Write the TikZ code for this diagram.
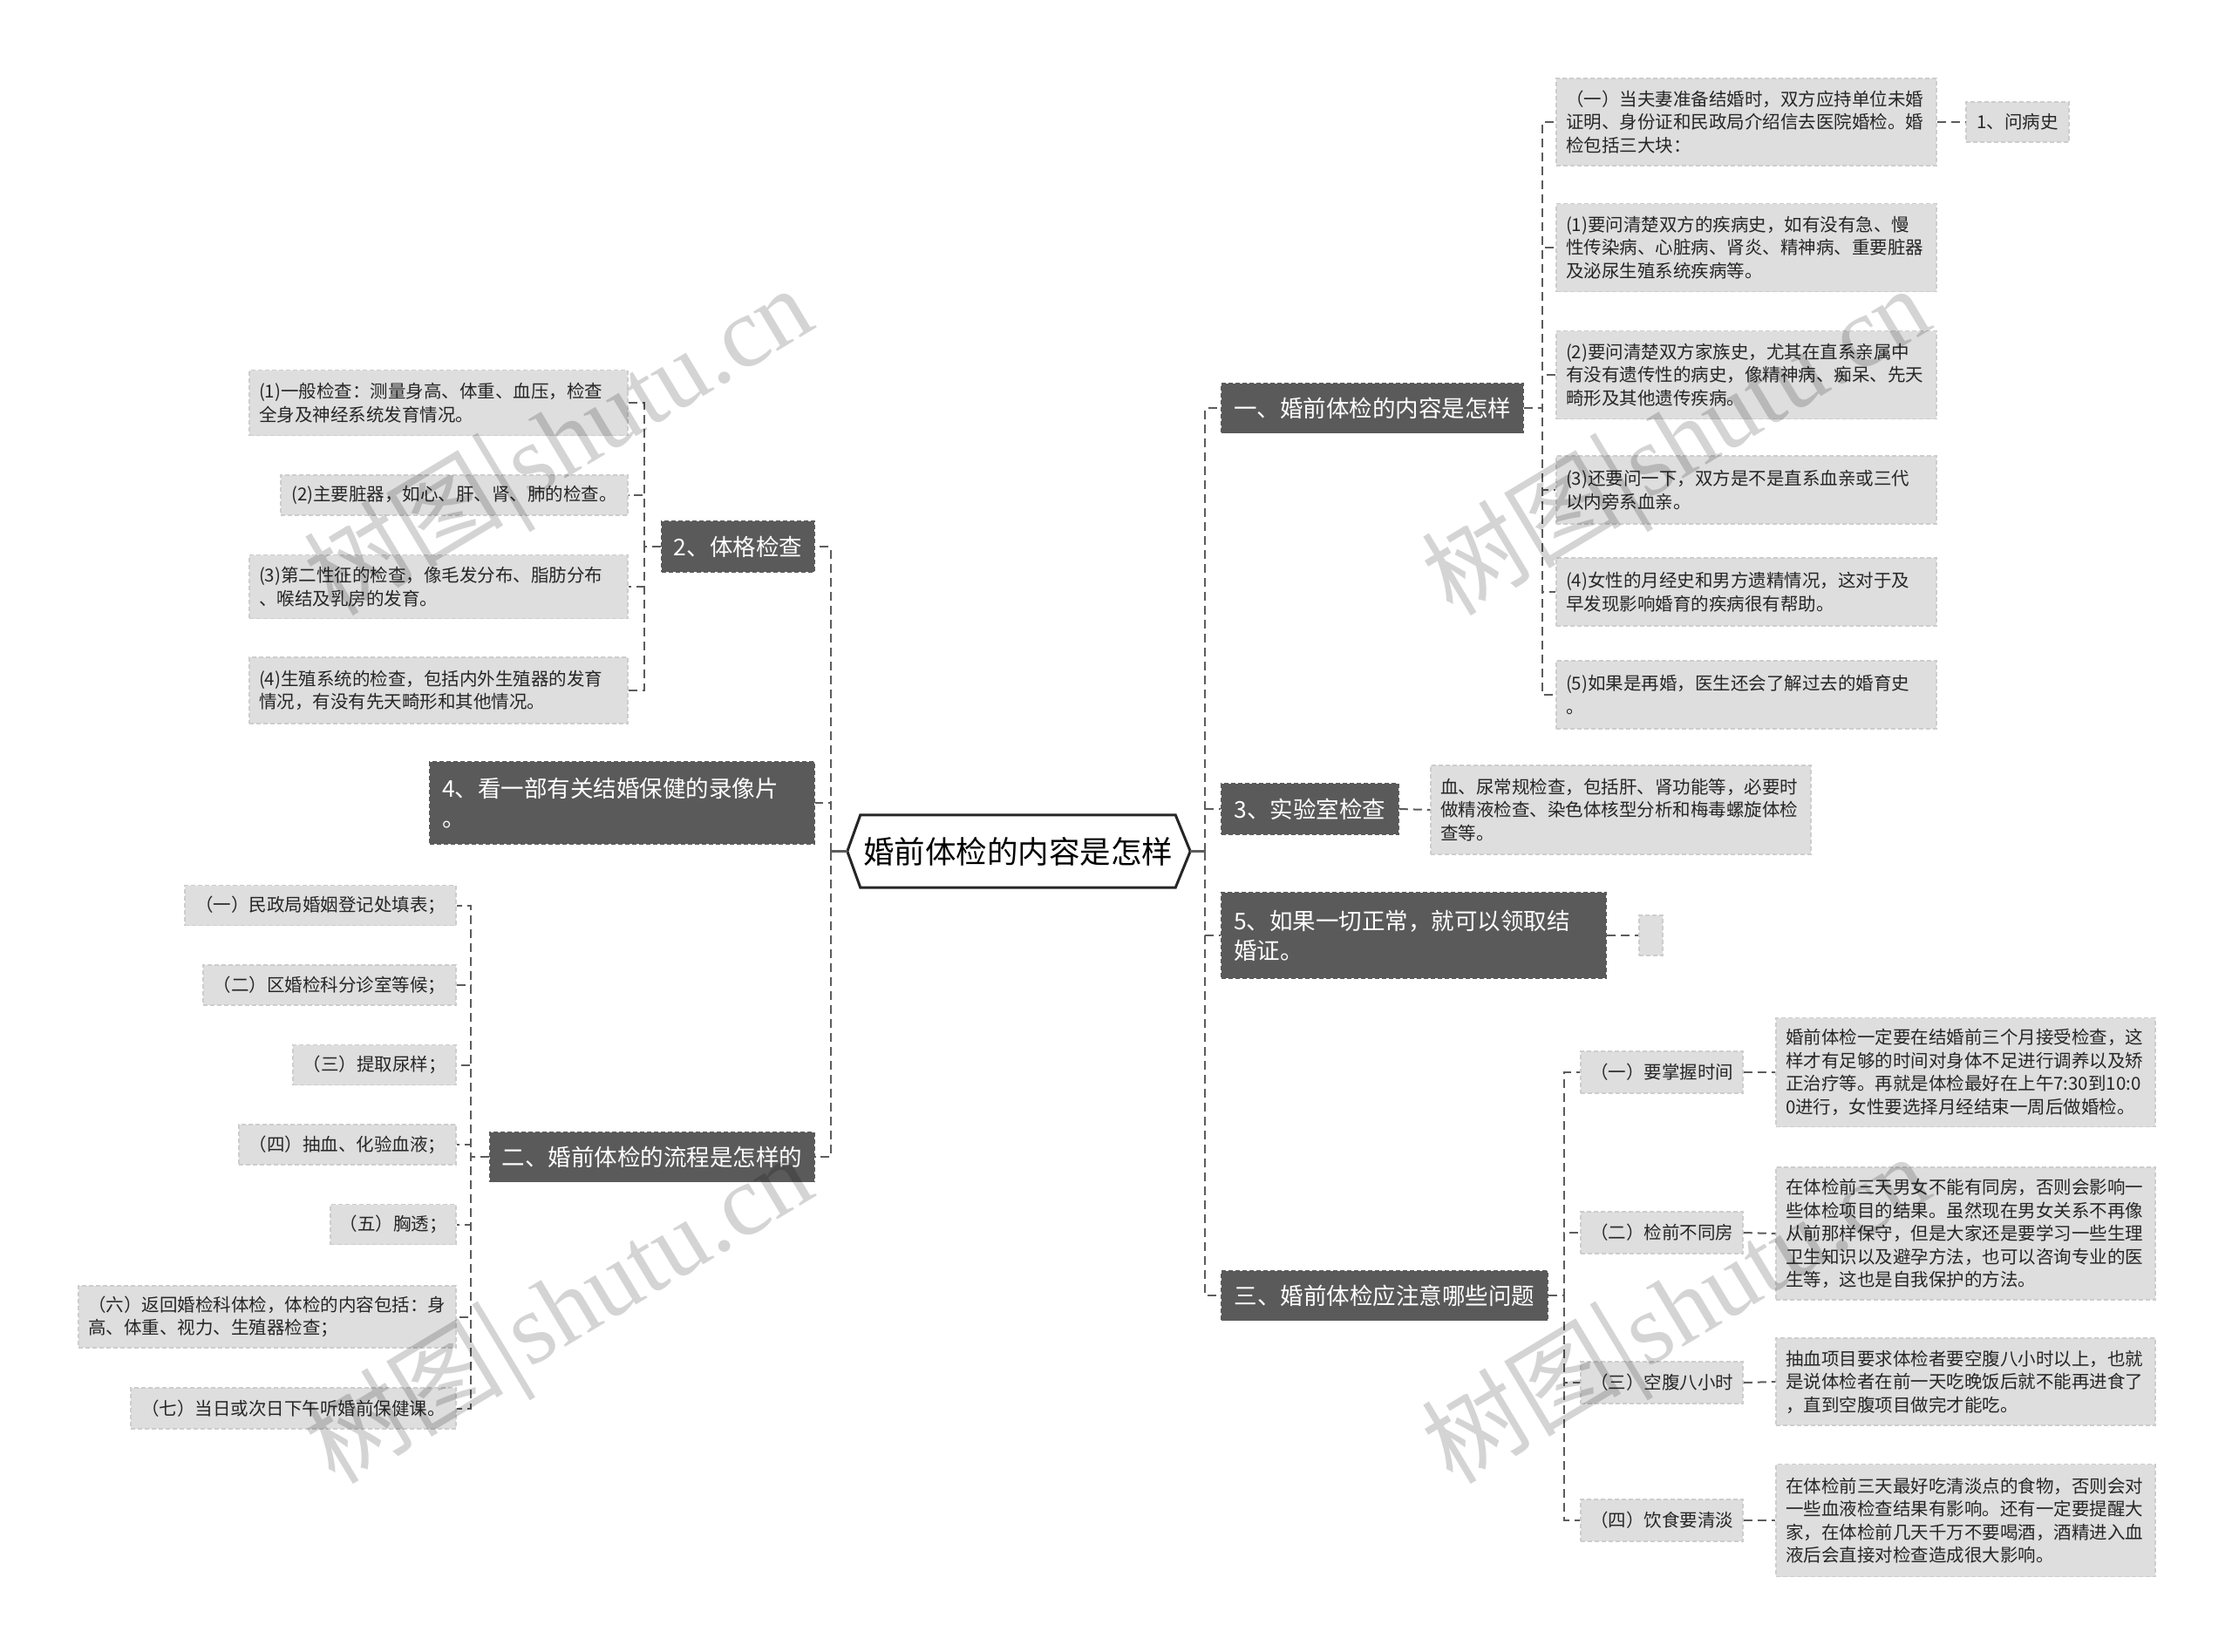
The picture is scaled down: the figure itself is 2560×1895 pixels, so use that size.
\documentclass[tikz,border=0pt]{standalone}
\usepackage{fontspec}
\setmainfont{Noto Sans CJK SC}
\newfontfamily\wmserif{Liberation Serif}
\usetikzlibrary{calc}
\definecolor{dk}{HTML}{5A5A5A}
\definecolor{lt}{HTML}{DEDEDE}
\definecolor{ltb}{HTML}{CDCDCD}
\definecolor{cn}{HTML}{5C5C5C}
\definecolor{txt}{HTML}{262626}
\begin{document}
\begin{tikzpicture}[x=1pt,y=-1pt,
  wh/.style 2 args={minimum width=#1pt,minimum height=#2pt},
  tw/.style={text width=#1pt},
  dkbox/.style={fill=dk,draw=dk,dash pattern=on 5pt off 3pt,line width=1.5pt,text=white,
    font=\fontsize{26.5pt}{34pt}\selectfont,align=left,inner sep=0pt},
  ltbox/.style={fill=lt,draw=ltb,dash pattern=on 5pt off 3pt,line width=1.5pt,text=txt,
    font=\fontsize{20.5pt}{26.5pt}\selectfont,align=left,inner sep=0pt},
  conn/.style={draw=cn,line width=2pt,dash pattern=on 10pt off 6pt},
  solidc/.style={draw=cn,line width=2.5pt},
  wm/.style={rotate=31,text=black,text opacity=0.17,font=\fontsize{115pt}{115pt}\selectfont,inner sep=0pt}
]
\fill[white] (0,0) rectangle (2560,1895);
\useasboundingbox (0,0) rectangle (2560,1895);

% centre
\node[font=\fontsize{35.5pt}{42pt}\selectfont,text=black,inner sep=0pt,wh={361}{83}] (c) at (1167.5,976.5) {婚前体检的内容是怎样};
\draw[line width=3pt,draw=black!85] (c.north west) -- (c.north east) -- ([xshift=17pt]c.east) -- (c.south east) -- (c.south west) -- ([xshift=-15pt]c.west) -- cycle;
\coordinate (hr) at ([xshift=17pt]c.east);
\coordinate (hl) at ([xshift=-15pt]c.west);
\coordinate (rs) at ([xshift=17pt]hr);
\coordinate (ls) at ([xshift=-19pt]hl);
\draw[solidc] (hr) -- (rs);
\draw[solidc] (hl) -- (ls);

% right branches
\node[dkbox,wh={346}{57}] (b1) at (1574,468) {一、婚前体检的内容是怎样};
\node[dkbox,wh={203}{58}] (b3) at (1502.5,928) {3、实验室检查};
\node[dkbox,wh={441}{98},tw=413] (b5) at (1621.5,1073) {5、如果一切正常，就可以领取结\\婚证。};
\node[dkbox,wh={374}{57}] (b6) at (1588,1486) {三、婚前体检应注意哪些问题};
\foreach \n in {b1,b3,b5,b6} \draw[conn] (rs) |- (\n.west);

% b1 children
\node[ltbox,wh={436}{100},tw=414] (L1a) at (2003,140) {（一）当夫妻准备结婚时，双方应持单位未婚\\证明、身份证和民政局介绍信去医院婚检。婚\\检包括三大块：};
\node[ltbox,wh={436}{101},tw=414] (L1b) at (2003,284) {(1)要问清楚双方的疾病史，如有没有急、慢\\性传染病、心脏病、肾炎、精神病、重要脏器\\及泌尿生殖系统疾病等。};
\node[ltbox,wh={436}{101},tw=414] (L1c) at (2003,430) {(2)要问清楚双方家族史，尤其在直系亲属中\\有没有遗传性的病史，像精神病、痴呆、先天\\畸形及其他遗传疾病。};
\node[ltbox,wh={436}{78},tw=414] (L1d) at (2003,562) {(3)还要问一下，双方是不是直系血亲或三代\\以内旁系血亲。};
\node[ltbox,wh={436}{78},tw=414] (L1e) at (2003,679) {(4)女性的月经史和男方遗精情况，这对于及\\早发现影响婚育的疾病很有帮助。};
\node[ltbox,wh={436}{78},tw=414] (L1f) at (2003,797) {(5)如果是再婚，医生还会了解过去的婚育史\\。};
\foreach \n in {L1a,L1b,L1c,L1d,L1e,L1f} \draw[conn] (b1.east) -- ++(21,0) |- (\n.west);
\node[ltbox,wh={118}{46}] (wb) at (2314,140) {1、问病史};
\draw[conn] (L1a.east) -- (wb.west);

% b3 child
\node[ltbox,wh={436}{102},tw=414] (L3) at (1859,929) {血、尿常规检查，包括肝、肾功能等，必要时\\做精液检查、染色体核型分析和梅毒螺旋体检\\查等。};
\draw[conn] (b3.east) -- (L3.west);

% b5 child
\node[ltbox,wh={27}{46}] (e5) at (1893.5,1073) {};
\draw[conn] (b5.east) -- (e5.west);

% b6 children
\node[ltbox,wh={186}{48}] (S1) at (1906,1230) {（一）要掌握时间};
\node[ltbox,wh={186}{48}] (S2) at (1906,1414) {（二）检前不同房};
\node[ltbox,wh={186}{48}] (S3) at (1906,1586) {（三）空腹八小时};
\node[ltbox,wh={186}{48}] (S4) at (1906,1744) {（四）饮食要清淡};
\foreach \n in {S1,S2,S3,S4} \draw[conn] (b6.east) -- ++(18,0) |- (\n.west);
\node[ltbox,wh={435}{125},tw=413] (T1) at (2254.5,1230) {婚前体检一定要在结婚前三个月接受检查，这\\样才有足够的时间对身体不足进行调养以及矫\\正治疗等。再就是体检最好在上午7:30到10:0\\0进行，女性要选择月经结束一周后做婚检。};
\node[ltbox,wh={435}{152},tw=413] (T2) at (2254.5,1415) {在体检前三天男女不能有同房，否则会影响一\\些体检项目的结果。虽然现在男女关系不再像\\从前那样保守，但是大家还是要学习一些生理\\卫生知识以及避孕方法，也可以咨询专业的医\\生等，这也是自我保护的方法。};
\node[ltbox,wh={435}{100},tw=413] (T3) at (2254.5,1585) {抽血项目要求体检者要空腹八小时以上，也就\\是说体检者在前一天吃晚饭后就不能再进食了\\，直到空腹项目做完才能吃。};
\node[ltbox,wh={435}{129},tw=413] (T4) at (2254.5,1744) {在体检前三天最好吃清淡点的食物，否则会对\\一些血液检查结果有影响。还有一定要提醒大\\家，在体检前几天千万不要喝酒，酒精进入血\\液后会直接对检查造成很大影响。};
\draw[conn] (S1.east) -- (T1.west);
\draw[conn] (S2.east) -- (T2.west);
\draw[conn] (S3.east) -- (T3.west);
\draw[conn] (S4.east) -- (T4.west);

% left branches
\node[dkbox,wh={175}{58}] (b2) at (846.5,627) {2、体格检查};
\node[dkbox,wh={441}{94},tw=413] (b4) at (713.5,921) {4、看一部有关结婚保健的录像片\\。};
\node[dkbox,wh={372}{57}] (b7) at (748,1327) {二、婚前体检的流程是怎样的};
\foreach \n in {b2,b4,b7} \draw[conn] (ls) |- (\n.east);

% b2 children
\node[ltbox,wh={434}{75},tw=412] (P1) at (503,462) {(1)一般检查：测量身高、体重、血压，检查\\全身及神经系统发育情况。};
\node[ltbox,wh={398}{46}] (P2) at (521,568) {(2)主要脏器，如心、肝、肾、肺的检查。};
\node[ltbox,wh={434}{73},tw=412] (P3) at (503,673) {(3)第二性征的检查，像毛发分布、脂肪分布\\、喉结及乳房的发育。};
\node[ltbox,wh={434}{76},tw=412] (P4) at (503,792) {(4)生殖系统的检查，包括内外生殖器的发育\\情况，有没有先天畸形和其他情况。};
\foreach \n in {P1,P2,P3,P4} \draw[conn] (b2.west) -- ++(-19,0) |- (\n.east);

% b7 children
\node[ltbox,wh={311}{46}] (Q1) at (367.5,1038.5) {（一）民政局婚姻登记处填表；};
\node[ltbox,wh={290}{46}] (Q2) at (378,1130) {（二）区婚检科分诊室等候；};
\node[ltbox,wh={187}{46}] (Q3) at (429.5,1221.5) {（三）提取尿样；};
\node[ltbox,wh={249}{46}] (Q4) at (398.5,1313) {（四）抽血、化验血液；};
\node[ltbox,wh={144}{46}] (Q5) at (451,1404.5) {（五）胸透；};
\node[ltbox,wh={433}{71},tw=411] (Q6) at (306.5,1510.5) {（六）返回婚检科体检，体检的内容包括：身\\高、体重、视力、生殖器检查；};
\node[ltbox,wh={373}{47}] (Q7) at (336.5,1615.5) {（七）当日或次日下午听婚前保健课。};
\foreach \n in {Q1,Q2,Q3,Q4,Q5,Q6,Q7} \draw[conn] (b7.west) -- ++(-21,0) |- (\n.east);

% watermarks
\node[wm] (wm1) at (645,514) {树图|{\wmserif shutu.cn}};
\node[wm] (wm2) at (1927,514) {树图|{\wmserif shutu.cn}};
\node[wm] (wm3) at (645,1510) {树图|{\wmserif shutu.cn}};
\node[wm] (wm4) at (1927,1510) {树图|{\wmserif shutu.cn}};
\end{tikzpicture}
\end{document}
